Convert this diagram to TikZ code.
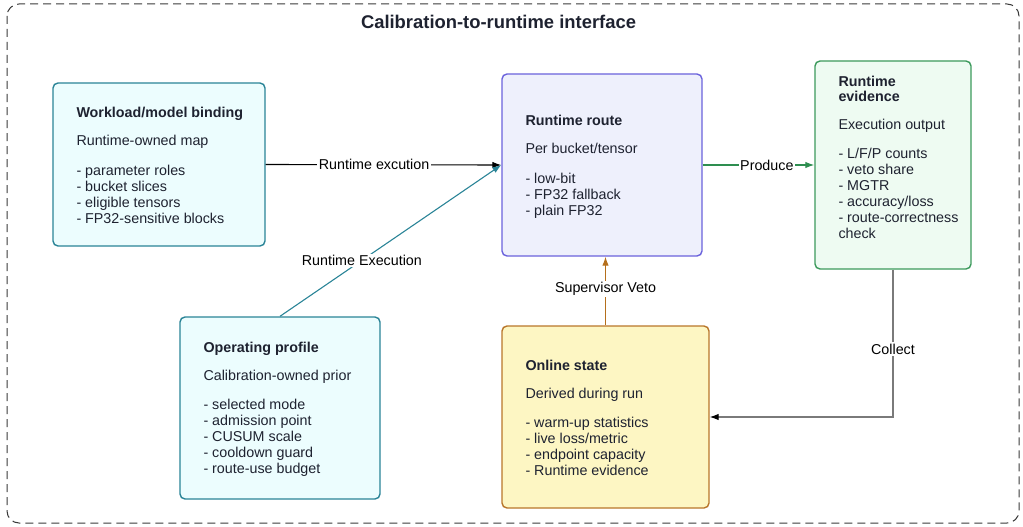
\documentclass[tikz,border=0pt]{standalone}
\usepackage{fontspec}
\setmainfont{Liberation Sans}
\usetikzlibrary{arrows.meta}

\definecolor{ink}{HTML}{1E2230}
\definecolor{frame}{HTML}{3A3A3A}
\definecolor{tealline}{HTML}{2A8497}
\definecolor{tealfill}{HTML}{ECFDFE}
\definecolor{routeline}{HTML}{6A62DC}
\definecolor{routefill}{HTML}{EEF0FC}
\definecolor{evidline}{HTML}{3C9A5C}
\definecolor{evidfill}{HTML}{EEFBF2}
\definecolor{stateline}{HTML}{B8762A}
\definecolor{statefill}{HTML}{FDF6C3}
\definecolor{greenarrow}{HTML}{2E8E50}
\definecolor{brownarrow}{HTML}{B56F1C}
\definecolor{greyarrow}{HTML}{7A7A7A}

\begin{document}
\begin{tikzpicture}[x=1pt, y=-1pt]
                \tikzstyle{box}=[
                    rectangle, rounded corners=5pt, line width=1.4pt, inner sep=0pt]
                \tikzstyle{content}=[anchor=west, align=left, inner sep=0pt,
                    text=ink, font=\fontsize{14.3}{16}\selectfont]
                \tikzstyle{connector}=[line width=1.1pt,
                    arrows={-Latex[length=9pt, width=6.5pt]}]
                \tikzstyle{tag}=[fill=white, inner sep=1.5pt, text=black,
                    font=\fontsize{14.3}{16}\selectfont]

                \useasboundingbox (0, 0) rectangle (1023, 527);
                \draw [frame, line width=1pt, rounded corners=12pt,
                    dash pattern=on 8pt off 5pt] (7, 4) rectangle (1019, 523);

                \node [text=ink, font=\fontsize{18.4}{22}\selectfont\bfseries]
                    (title) at (498.5, 22) {Calibration-to-runtime interface};

                % boxes
                \node [box, draw=tealline, fill=tealfill,
                    minimum width=212pt, minimum height=163pt] (binding) at (159, 164.5) {};
                \node [box, draw=routeline, fill=routefill,
                    minimum width=200pt, minimum height=182pt] (route) at (602, 165) {};
                \node [box, draw=evidline, fill=evidfill,
                    minimum width=156pt, minimum height=208pt] (evidence) at (893, 165) {};
                \node [box, draw=tealline, fill=tealfill,
                    minimum width=200pt, minimum height=182pt] (profile) at (280, 408) {};
                \node [box, draw=stateline, fill=statefill,
                    minimum width=207pt, minimum height=182pt] (online) at (605.5, 417) {};

                % box texts
                \node [content] (binding-txt) at ([xshift=24pt, yshift=-1pt]binding.west)
                    {\textbf{Workload/model binding}\\[12pt]
                     Runtime-owned map\\[14pt]
                     - parameter roles\\
                     - bucket slices\\
                     - eligible tensors\\
                     - FP32-sensitive blocks};
                \node [content] (route-txt) at ([xshift=24pt, yshift=-2pt]route.west)
                    {\textbf{Runtime route}\\[12pt]
                     Per bucket/tensor\\[14pt]
                     - low-bit\\
                     - FP32 fallback\\
                     - plain FP32};
                \node [content] (evidence-txt) at ([xshift=24pt, yshift=8pt]evidence.west)
                    {\textbf{Runtime}\\[-1pt]
                     \textbf{evidence}\\[12pt]
                     Execution output\\[13pt]
                     - L/F/P counts\\
                     - veto share\\
                     - MGTR\\
                     - accuracy/loss\\
                     - route-correctness\\
                     check};
                \node [content] (profile-txt) at ([xshift=24pt, yshift=-1pt]profile.west)
                    {\textbf{Operating profile}\\[12pt]
                     Calibration-owned prior\\[13pt]
                     - selected mode\\
                     - admission point\\
                     - CUSUM scale\\
                     - cooldown guard\\
                     - route-use budget};
                \node [content] (online-txt) at ([xshift=24pt, yshift=-1pt]online.west)
                    {\textbf{Online state}\\[12pt]
                     Derived during run\\[13pt]
                     - warm-up statistics\\
                     - live loss/metric\\
                     - endpoint capacity\\
                     - Runtime evidence};

                % connectors
                \draw [connector, black] (binding.east) -- (route.west)
                    node [tag, pos=0.46] (lbl-exec) {Runtime excution};
                \draw [connector, tealline] (profile.north) -- (route.west)
                    node [tag, pos=0.37] (lbl-Exec) {Runtime Execution};
                \draw [connector, greenarrow] (route.east) -- (evidence.west)
                    node [tag, pos=0.575] (lbl-produce) {Produce};
                \draw [connector, brownarrow] (online.north) -- (online.north |- route.south)
                    node [tag, pos=0.53] (lbl-veto) {Supervisor Veto};
                \draw [connector, greyarrow,
                    arrows={-Latex[length=9pt, width=6.5pt, color=black]}]
                    (evidence.south) |- (online.east)
                    node [tag, pos=0.27] (lbl-collect) {Collect};
            \end{tikzpicture}
\end{document}
